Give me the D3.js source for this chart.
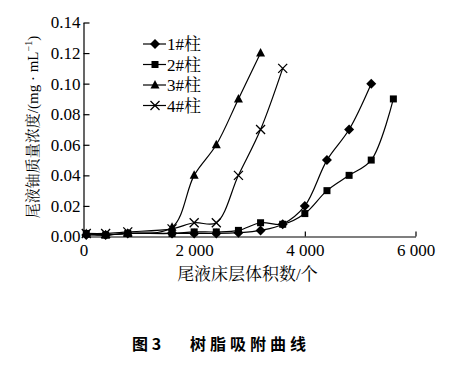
<!DOCTYPE html>
<html><head><meta charset="utf-8">
<script src="https://cdn.jsdelivr.net/npm/d3@7"></script>
<style>body{margin:0;background:#fff}svg{display:block}</style>
</head><body>
<script>
const seriesNames = ["1#柱","2#柱","3#柱","4#柱"];
const x1 = [50,400,800,1600,2000,2400,2800,3200,3600,4000,4400,4800,5200];
const y1 = [0.001,0.001,0.002,0.002,0.002,0.002,0.0025,0.004,0.008,0.02,0.05,0.07,0.10];
const x2 = [50,400,800,1600,2000,2400,2800,3200,3600,4000,4400,4800,5200,5600];
const y2 = [0.002,0.001,0.002,0.002,0.003,0.003,0.004,0.009,0.008,0.015,0.03,0.04,0.05,0.09];
const x3 = [50,400,800,1600,2000,2400,2800,3200];
const y3 = [0.002,0.001,0.002,0.006,0.04,0.06,0.09,0.12];
const x4 = [50,400,800,1600,2000,2400,2800,3200,3600];
const y4 = [0.002,0.002,0.003,0.005,0.009,0.009,0.04,0.07,0.11];
const xTicks = [0,2000,4000,6000];
const yTicks = [0,0.02,0.04,0.06,0.08,0.10,0.12,0.14];
const symbols = ["diamond","square","triangle","cross"];

const W=467,H=369;
const svg=d3.select("body").append("svg").attr("width",W).attr("height",H);
const x=d3.scaleLinear().domain([0,6000]).range([83.5,415.5]);
const y=d3.scaleLinear().domain([0,0.14]).range([236.5,22.5]);
const serif="'Liberation Serif','Times New Roman',serif";
const cjk="'Liberation Serif','Noto Serif CJK SC','Noto Sans CJK SC',serif";

// axes
const gx=svg.append("g").attr("transform","translate(0,236.5)")
  .call(d3.axisBottom(x).tickValues(xTicks).tickSizeInner(-5).tickSizeOuter(0)
  .tickFormat(d=>d===0?"0":d3.format(",")(d).replace(/,/g," ")));
gx.selectAll("text").attr("y",7).attr("dy","0.71em").style("font-family",serif).style("font-size","17px").attr("fill","#000");
gx.selectAll("line").attr("stroke","#000").attr("stroke-width",1.2);
gx.select(".domain").attr("stroke","#000").attr("stroke-width",1.2);

const gy=svg.append("g").attr("transform","translate(83.5,0)")
  .call(d3.axisLeft(y).tickValues(yTicks).tickSizeInner(-6).tickSizeOuter(0).tickFormat(d3.format(".2f")));
gy.selectAll("text").attr("x",-3).style("font-family",serif).style("font-size","17px").attr("fill","#000");
gy.selectAll("line").attr("stroke","#000").attr("stroke-width",1.2);
gy.select(".domain").attr("stroke","#000").attr("stroke-width",1.2);

// titles
svg.append("text").attr("x",247.5).attr("y",280).attr("text-anchor","middle")
  .style("font-family",cjk).style("font-size","17px").text("尾液床层体积数/个");
const yl=svg.append("text").attr("transform","translate(38,127) rotate(-90)").attr("text-anchor","middle")
  .style("font-family",cjk).style("font-size","15px");
yl.append("tspan").text("尾液铀质量浓度/(mg · mL");
yl.append("tspan").attr("dy",-6).style("font-size","10px").text("−1");
yl.append("tspan").attr("dy",6).text(")");

svg.append("text").attr("x",132).attr("y",350)
  .style("font-family","'Noto Sans CJK SC',sans-serif").style("font-weight","bold").style("font-size","16px")
  .attr("xml:space","preserve").text("图 3");
svg.append("text").attr("x",190).attr("y",350).style("letter-spacing","4px")
  .style("font-family","'Noto Sans CJK SC',sans-serif").style("font-weight","bold").style("font-size","16px")
  .text("树脂吸附曲线");

// series
const data=[[x1,y1],[x2,y2],[x3,y3],[x4,y4]];
const line=d3.line().x(d=>x(d[0])).y(d=>y(d[1])).curve(d3.curveCatmullRom.alpha(0.5));
function drawMarker(g,type,cx,cy){
  if(type==="diamond") g.append("path").attr("d",`M${cx},${cy-5}L${cx+5},${cy}L${cx},${cy+5}L${cx-5},${cy}Z`).attr("fill","#000");
  else if(type==="square") g.append("rect").attr("x",cx-3.5).attr("y",cy-3.5).attr("width",7).attr("height",7).attr("fill","#000");
  else if(type==="triangle") g.append("path").attr("d",`M${cx},${cy-5}L${cx+4.5},${cy+3.5}L${cx-4.5},${cy+3.5}Z`).attr("fill","#000");
  else g.append("path").attr("d",`M${cx-4.5},${cy-4.5}L${cx+4.5},${cy+4.5}M${cx+4.5},${cy-4.5}L${cx-4.5},${cy+4.5}`).attr("stroke","#000").attr("stroke-width",1.3).attr("fill","none");
}
data.forEach((s,i)=>{
  const pts=s[0].map((v,j)=>[v,s[1][j]]);
  svg.append("path").datum(pts).attr("d",line).attr("fill","none").attr("stroke","#000").attr("stroke-width",1.2);
  const g=svg.append("g");
  pts.forEach(p=>drawMarker(g,symbols[i],x(p[0]),y(p[1])));
});

// legend
seriesNames.forEach((n,i)=>{
  const ly=44+i*20.5;
  svg.append("line").attr("x1",143).attr("x2",166).attr("y1",ly).attr("y2",ly).attr("stroke","#000").attr("stroke-width",1.2);
  drawMarker(svg.append("g"),symbols[i],155,ly);
  svg.append("text").attr("x",167).attr("y",ly+6).style("font-family",cjk).style("font-size","17px").text(n);
});
</script>
</body></html>
